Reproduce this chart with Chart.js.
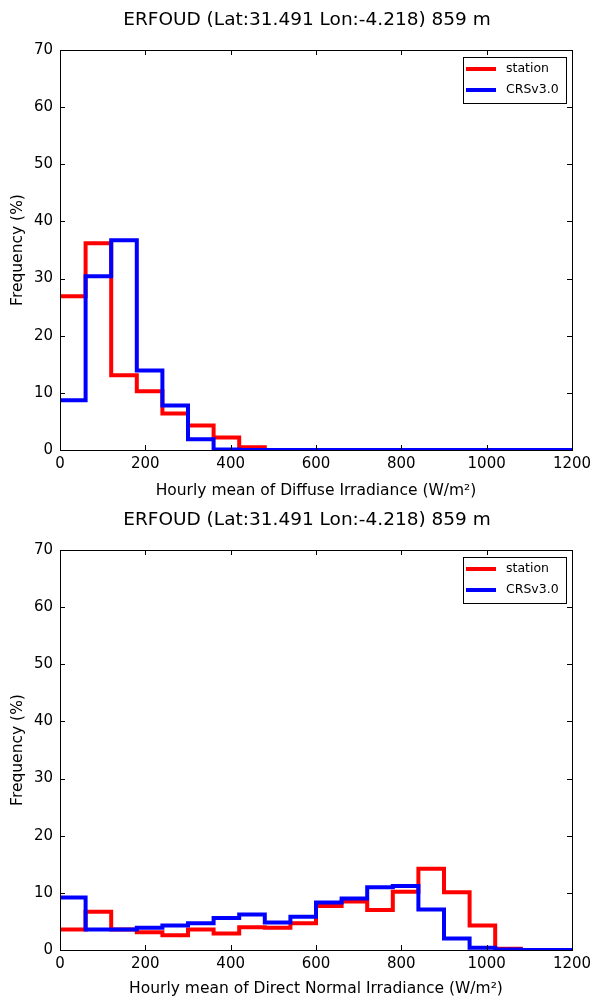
<!DOCTYPE html>
<html>
<head>
<meta charset="utf-8">
<title>ERFOUD irradiance histograms</title>
<script src="https://cdn.jsdelivr.net/npm/chart.js@4.4.1/dist/chart.umd.min.js"></script>
<style>
  html, body { margin: 0; padding: 0; background: #fff; }
  #wrap { position: relative; width: 591px; height: 998px; }
  canvas { position: absolute; left: 0; }
</style>
</head>
<body>
<div id="wrap">
  <canvas id="diffuseChart" width="591" height="500" style="top:0"></canvas>
  <canvas id="dniChart" width="591" height="498" style="top:500px"></canvas>
</div>
<script>
// ===== DATOS =====
const titulo = 'ERFOUD (Lat:31.491 Lon:-4.218) 859 m';
const seriesNames = ['station', 'CRSv3.0'];
const binEdges = [0, 60, 120, 180, 240, 300, 360, 420, 480, 540, 600,
                  660, 720, 780, 840, 900, 960, 1020, 1080, 1140, 1200];
const xTicks = [0, 200, 400, 600, 800, 1000, 1200];
const yTicks = [0, 10, 20, 30, 40, 50, 60, 70];

// frecuencia (%) por intervalo de 60 W/m2
const diffuseStation = [26.9, 36.2, 13.1, 10.3, 6.4, 4.3, 2.2, 0.5, 0, 0,
                        0, 0, 0, 0, 0, 0, 0, 0, 0, 0];
const diffuseCrs     = [8.7, 30.4, 36.7, 13.9, 7.8, 1.9, 0.1, 0, 0, 0,
                        0, 0, 0, 0, 0, 0, 0, 0, 0, 0];
const dniStation = [3.6, 6.7, 3.6, 3.1, 2.6, 3.6, 2.9, 4.0, 3.9, 4.7,
                    7.7, 8.5, 7.0, 10.2, 14.2, 10.1, 4.3, 0.2, 0, 0];
const dniCrs     = [9.2, 3.6, 3.6, 3.9, 4.3, 4.7, 5.6, 6.2, 4.8, 5.8,
                    8.3, 9.0, 11.0, 11.2, 7.1, 2.0, 0.4, 0.1, 0, 0];

const RED = '#ff0000';
const BLUE = '#0000ff';
const FONT = "'DejaVu Sans', sans-serif";

// puntos para histograma tipo "step"
function stepPoints(values) {
  return binEdges.map((x, i) => ({ x, y: values[Math.min(i, values.length - 1)] }));
}

// marco, ticks interiores, titulo y leyenda al estilo matplotlib
const mplStyle = {
  id: 'mplStyle',
  afterDatasetsDraw(chart) {
    const { ctx, chartArea: a, scales } = chart;
    ctx.save();
    ctx.strokeStyle = '#000';
    ctx.lineWidth = 1;
    ctx.beginPath();
    xTicks.forEach(v => {
      const px = Math.round(scales.x.getPixelForValue(v)) + 0.5;
      ctx.moveTo(px, a.bottom); ctx.lineTo(px, a.bottom - 5);
      ctx.moveTo(px, a.top); ctx.lineTo(px, a.top + 5);
    });
    yTicks.forEach(v => {
      const py = Math.round(scales.y.getPixelForValue(v)) + 0.5;
      ctx.moveTo(a.left, py); ctx.lineTo(a.left + 5, py);
      ctx.moveTo(a.right, py); ctx.lineTo(a.right - 5, py);
    });
    ctx.stroke();
    ctx.strokeRect(Math.round(a.left) + 0.5, Math.round(a.top) + 0.5,
                   Math.round(a.right - a.left), Math.round(a.bottom - a.top));

    // leyenda
    const lx = a.right - 109, ly = a.top + 7;
    ctx.fillStyle = '#fff';
    ctx.fillRect(lx, ly, 103, 46);
    ctx.strokeRect(lx + 0.5, ly + 0.5, 103, 46);
    ctx.font = '12.5px ' + FONT;
    ctx.textBaseline = 'middle';
    ctx.textAlign = 'left';
    const colors = [RED, BLUE];
    seriesNames.forEach((name, i) => {
      const yy = ly + 12 + i * 21;
      ctx.strokeStyle = colors[i];
      ctx.lineWidth = 4;
      ctx.beginPath();
      ctx.moveTo(lx + 3, yy); ctx.lineTo(lx + 33, yy);
      ctx.stroke();
      ctx.fillStyle = '#000';
      ctx.fillText(name, lx + 43, yy);
    });
    ctx.restore();
  },
  afterDraw(chart) {
    const { ctx, chartArea: a } = chart;
    ctx.save();
    ctx.fillStyle = '#000';
    ctx.font = '18.5px ' + FONT;
    ctx.textAlign = 'center';
    ctx.textBaseline = 'middle';
    ctx.fillText(titulo, (a.left + a.right) / 2 - 9, 20);
    ctx.restore();
  }
};

function crearHistograma(canvasId, station, crs, xLabel, axisHeight) {
  const ctx = document.getElementById(canvasId).getContext('2d');
  return new Chart(ctx, {
    type: 'line',
    data: {
      datasets: [
        { label: seriesNames[1], data: stepPoints(crs), borderColor: BLUE,
          borderWidth: 4, stepped: 'before', pointRadius: 0, fill: false, clip: 0 },
        { label: seriesNames[0], data: stepPoints(station), borderColor: RED,
          borderWidth: 4, stepped: 'before', pointRadius: 0, fill: false, clip: 0 }
      ]
    },
    options: {
      responsive: false,
      animation: false,
      devicePixelRatio: 1,
      layout: { padding: { left: 0, right: 19, top: 50, bottom: 0 } },
      plugins: { legend: { display: false }, title: { display: false }, tooltip: { enabled: false } },
      scales: {
        x: {
          type: 'linear', min: 0, max: 1200,
          afterFit: s => { s.height = axisHeight; s.paddingLeft = 0; s.paddingRight = 0; },
          afterBuildTicks: s => { s.ticks = xTicks.map(v => ({ value: v })); },
          grid: { display: false, drawTicks: false },
          border: { display: false },
          ticks: { color: '#000', padding: 5, maxRotation: 0, callback: v => String(v),
                   font: { family: FONT, size: 15 } },
          title: { display: true, text: xLabel, color: '#000', padding: { top: 0, bottom: 0 },
                   font: { family: FONT, size: 15.5 } }
        },
        y: {
          min: 0, max: 70,
          afterFit: s => { s.width = 60; s.paddingTop = 0; s.paddingBottom = 0; },
          afterBuildTicks: s => { s.ticks = yTicks.map(v => ({ value: v })); },
          grid: { display: false, drawTicks: false },
          border: { display: false },
          ticks: { color: '#000', padding: 7, callback: v => String(v),
                   font: { family: FONT, size: 15 } },
          title: { display: true, text: 'Frequency (%)', color: '#000', padding: { top: 9, bottom: 0 },
                   font: { family: FONT, size: 15.5 } }
        }
      }
    },
    plugins: [mplStyle]
  });
}

crearHistograma('diffuseChart', diffuseStation, diffuseCrs,
  'Hourly mean of Diffuse Irradiance (W/m²)', 50);
crearHistograma('dniChart', dniStation, dniCrs,
  'Hourly mean of Direct Normal Irradiance (W/m²)', 48);
</script>
</body>
</html>
